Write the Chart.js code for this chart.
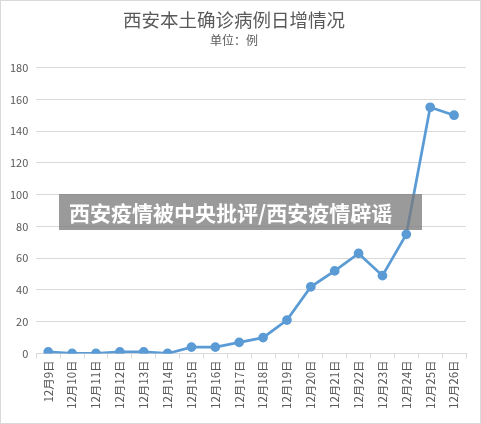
<!DOCTYPE html>
<html>
<head>
<meta charset="utf-8">
<script src="https://cdn.jsdelivr.net/npm/chart.js@4/dist/chart.umd.min.js"></script>
<style>
  body { margin: 0; background: #fff; }
  #wrap { position: relative; width: 481px; height: 424px; box-sizing: border-box; border: 1px solid #d9d9d9; }
  #banner {
    position: absolute; left: 58px; top: 193px; width: 363px; height: 36px;
    background: rgba(120,120,120,0.75); color: #fff;
    font-family: "Noto Sans CJK SC", sans-serif; font-weight: bold; font-size: 21px;
    line-height: 36px; padding-left: 10px; box-sizing: border-box; white-space: nowrap;
  }
</style>
</head>
<body>
<div id="wrap">
  <canvas id="myChart" width="479" height="422"></canvas>
  <div id="banner">西安疫情被中央批评/西安疫情辟谣</div>
</div>
<script>
var days = ['12月9日','12月10日','12月11日','12月12日','12月13日','12月14日','12月15日','12月16日','12月17日',
            '12月18日','12月19日','12月20日','12月21日','12月22日','12月23日','12月24日','12月25日','12月26日'];
var cases = [1, 0, 0, 1, 1, 0, 4, 4, 7, 10, 21, 42, 52, 63, 49, 75, 155, 150];

var font = '"Noto Sans CJK SC", sans-serif';
const ctx = document.getElementById('myChart');
new Chart(ctx, {
    type: 'line',
    data: {
        labels: days,
        datasets: [{
            data: cases,
            borderColor: '#5b9bd5',
            backgroundColor: '#5b9bd5',
            borderWidth: 2.75,
            pointRadius: 3.5,
            pointHoverRadius: 3.5,
            tension: 0
        }]
    },
    options: {
        responsive: false,
        animation: false,
        layout: { padding: { left: 1, right: 14, top: 0, bottom: 12 } },
        plugins: {
            legend: { display: false },
            tooltip: { enabled: false },
            title: {
                display: true,
                text: '西安本土确诊病例日增情况',
                color: '#595959',
                font: { family: font, size: 18.5, weight: 'normal' },
                padding: { top: 8, bottom: 0 }
            },
            subtitle: {
                display: true,
                text: '单位：例',
                color: '#595959',
                font: { family: font, size: 12 },
                padding: { top: 2, bottom: 20 }
            }
        },
        scales: {
            x: {
                offset: true,
                grid: { offset: true, drawOnChartArea: false, tickLength: 5, color: '#d9d9d9' },
                border: { color: '#d9d9d9' },
                ticks: {
                    minRotation: 90, maxRotation: 90, autoSkip: false,
                    color: '#595959', font: { family: font, size: 11.5 }, padding: 2
                }
            },
            y: {
                min: 0, max: 180,
                ticks: { stepSize: 20, color: '#595959', font: { family: font, size: 11 }, padding: 8 },
                grid: { color: '#d9d9d9', drawTicks: false },
                border: { display: false }
            }
        }
    }
});
</script>
</body>
</html>
